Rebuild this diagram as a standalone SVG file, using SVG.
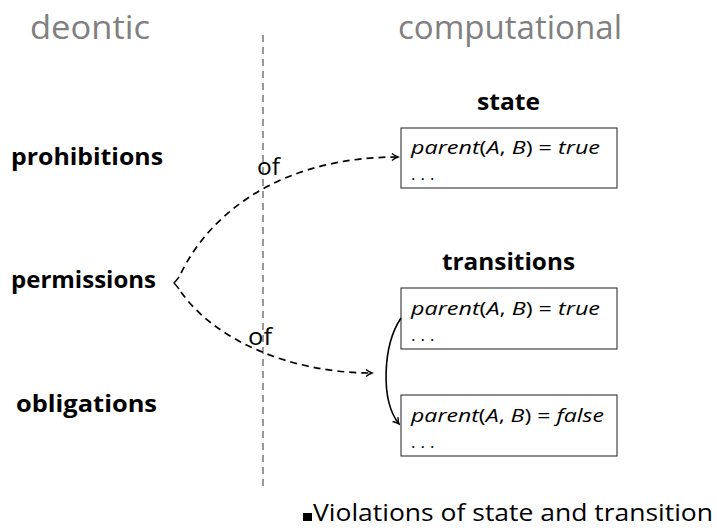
<svg xmlns="http://www.w3.org/2000/svg" width="717" height="528" viewBox="0 0 717 528">
<style>
.hd{font-family:"Open Sans","DejaVu Sans",sans-serif;font-size:33px;fill:#808080}
.lb{font-family:"Open Sans","DejaVu Sans",sans-serif;font-weight:bold;font-size:23px;fill:#000}
.bx{fill:#fff;stroke:#444;stroke-width:1.2}
.mt{font-family:"Open Sans","DejaVu Sans",sans-serif;font-size:17.5px;fill:#000}
.it{font-style:italic}
.dt{font-family:"Open Sans","DejaVu Sans",sans-serif;font-size:17px;fill:#000;letter-spacing:5px}
.dash{fill:none;stroke:#000;stroke-width:1.7;stroke-dasharray:7,5}
.of{font-family:"Open Sans","DejaVu Sans",sans-serif;font-size:24px;fill:#000}
</style>
<defs>
<marker id="ah" markerWidth="10" markerHeight="10" refX="8" refY="5" orient="auto" markerUnits="userSpaceOnUse">
<path d="M2,1.5 Q5,4 8,5 Q5,6 2,8.5" fill="none" stroke="#000" stroke-width="1.4"/>
</marker>
</defs>
<g id="headings">
<text class="hd" x="30" y="39" textLength="120" lengthAdjust="spacingAndGlyphs">deontic</text>
<text class="hd" x="398" y="39" textLength="224" lengthAdjust="spacingAndGlyphs">computational</text>
</g>
<g id="divider">
<line x1="263" y1="35" x2="263" y2="490" stroke="#808080" stroke-width="1.6" stroke-dasharray="7,5"/>
</g>
<g id="prohibitions"><text class="lb" x="11" y="165" textLength="152" lengthAdjust="spacingAndGlyphs">prohibitions</text></g>
<g id="permissions"><text class="lb" x="11" y="288" textLength="145" lengthAdjust="spacingAndGlyphs">permissions</text></g>
<g id="obligations"><text class="lb" x="16" y="412" textLength="141" lengthAdjust="spacingAndGlyphs">obligations</text></g>
<g id="state-title"><text class="lb" x="477" y="110" textLength="63" lengthAdjust="spacingAndGlyphs">state</text></g>
<g id="transitions-title"><text class="lb" x="442" y="270" textLength="133" lengthAdjust="spacingAndGlyphs">transitions</text></g>
<g id="state-box">
<rect class="bx" x="401" y="128" width="216" height="60"/>
<text class="mt" x="411" y="154" textLength="189" lengthAdjust="spacingAndGlyphs"><tspan class="it">parent</tspan>(<tspan class="it">A</tspan>, <tspan class="it">B</tspan>) = <tspan class="it">true</tspan></text>
<text class="dt" x="411" y="180">...</text>
</g>
<g id="transition-box-1">
<rect class="bx" x="401" y="288" width="216" height="61"/>
<text class="mt" x="411" y="315" textLength="189" lengthAdjust="spacingAndGlyphs"><tspan class="it">parent</tspan>(<tspan class="it">A</tspan>, <tspan class="it">B</tspan>) = <tspan class="it">true</tspan></text>
<text class="dt" x="411" y="341">...</text>
</g>
<g id="transition-box-2">
<rect class="bx" x="401" y="395" width="216" height="61"/>
<text class="mt" x="411" y="422" textLength="193" lengthAdjust="spacingAndGlyphs"><tspan class="it">parent</tspan>(<tspan class="it">A</tspan>, <tspan class="it">B</tspan>) = <tspan class="it">false</tspan></text>
<text class="dt" x="411" y="448">...</text>
</g>
<g id="connectors">
<path d="M179,277 Q176,281 174,283 Q176,285 179,289" fill="none" stroke="#000" stroke-width="1.4"/>
<path class="dash" d="M181,273 C215,205 290,157 398,157" marker-end="url(#ah)"/>
<path class="dash" d="M181,292 C215,340 290,373 372,373" marker-end="url(#ah)"/>
<path d="M401,318 C383,345 380,400 399,424" fill="none" stroke="#000" stroke-width="1.6" marker-end="url(#ah)"/>
<text class="of" x="257" y="175" textLength="23" lengthAdjust="spacingAndGlyphs">of</text>
<text class="of" x="248" y="345" textLength="24" lengthAdjust="spacingAndGlyphs">of</text>
</g>
<g id="footer">
<rect x="303" y="513" width="9" height="8" fill="#000"/>
<text x="313" y="521" font-family="'Open Sans','DejaVu Sans',sans-serif" font-size="24" textLength="400" lengthAdjust="spacingAndGlyphs">Violations of state and transition</text>
</g>
</svg>
